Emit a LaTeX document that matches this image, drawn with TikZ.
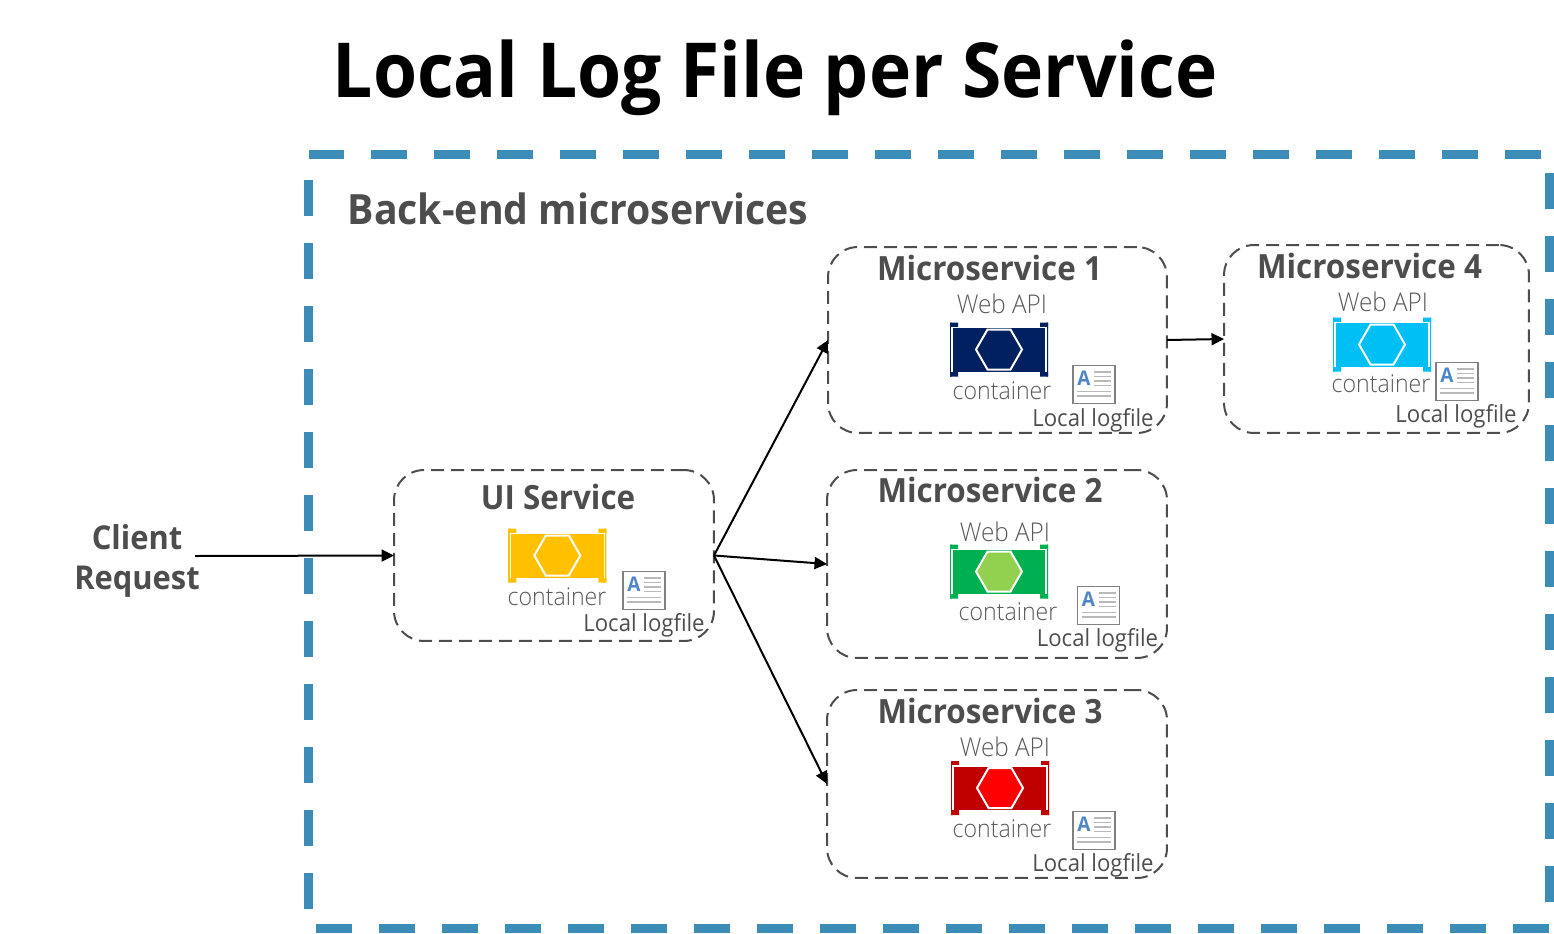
\documentclass[tikz,border=0pt]{standalone}
\usepackage{fontspec}
\setmainfont{Open Sans}[FakeStretch=0.94]
\newfontfamily\lightfont{Open Sans Light}[FakeStretch=0.94]
\usepackage{xcolor}
\usetikzlibrary{arrows.meta,positioning,shapes.geometric,calc}
\definecolor{edgeblue}{HTML}{3B8DB8}
\definecolor{inkgray}{HTML}{4D4D4D}
\definecolor{thingray}{HTML}{595959}
\definecolor{docblue}{HTML}{4F86C6}
\definecolor{uiyellow}{HTML}{FFC000}
\definecolor{onenavy}{HTML}{002060}
\definecolor{twogreen}{HTML}{00B050}
\definecolor{twolime}{HTML}{92D050}
\definecolor{threered}{HTML}{C00000}
\definecolor{fourcyan}{HTML}{00BFF5}

\tikzset{
  svcbox/.style={rectangle, draw=inkgray, dashed, dash pattern=on 0.26cm off 0.14cm, line width=0.04cm, rounded corners=0.6cm, inner sep=0pt, outer sep=0pt},
  svctitle/.style={text=inkgray, font=\fontsize{19}{24}\selectfont\bfseries, inner sep=0pt},
  thinlabel/.style={text=thingray, font=\fontsize{14.7}{17}\lightfont, inner sep=0pt},
  ctrlabel/.style={text=thingray, font=\fontsize{14}{17}\lightfont, inner sep=0pt},
  loglabel/.style={text=inkgray, font=\fontsize{13.4}{16}\selectfont, inner sep=0pt},
  arr/.style={-{Triangle[length=0.25cm,width=0.24cm]}, line width=0.04cm, black},
  pics/ctr/.style 2 args={code={
    \fill[#1] (-49,-22) rectangle (49,22);
    \fill[#1] (-49,-27) rectangle (-41,-22) (41,-27) rectangle (49,-22) (-49,22) rectangle (-41,27) (41,22) rectangle (49,27);
    \fill[#1] (-49,-27) rectangle (-47.5,27) (47.5,-27) rectangle (49,27);
    \draw[white, line width=0.024cm] (-47,22) -- (-47,-22) -- (47,-22) -- (47,22);
    \draw[white, line width=0.04cm, fill=#2] (-23,0) -- (-11.5,-20) -- (11.5,-20) -- (23,0) -- (11.5,20) -- (-11.5,20) -- cycle;
  }},
  pics/logdoc/.style={code={
    \draw[gray, fill=white, line width=0.036cm] (-21,-19) rectangle (21,19);
    \node[text=docblue, font=\fontsize{11.5}{12}\selectfont\bfseries, inner sep=0pt] (-glyph) at (-10,-6) {A};
    \draw[gray!55, line width=0.034cm] (0,-12.5) -- (17,-12.5) (0,-8) -- (17,-8) (0,-3.5) -- (17,-3.5) (0,1) -- (17,1) (-17,7) -- (17,7) (-17,11.5) -- (17,11.5);
  }}
}

\begin{document}
\begin{tikzpicture}[x=0.02cm, y=-0.02cm]
\useasboundingbox (0,0) rectangle (1554,933);

\node[font=\fontsize{43.2}{50}\selectfont\bfseries, inner sep=0pt] (heading) at (775,78) {Local Log File per Service};

\draw[edgeblue, line width=0.18cm, dash pattern=on 0.72cm off 0.54cm] (308.5,154.5) -- (1549.5,154.5) -- (1549.5,928.5) -- (308.5,928.5) -- cycle;
\node[svctitle, font=\fontsize{23.75}{30}\selectfont\bfseries] (backend) at (578,209) {Back-end microservices};

\node[svctitle, align=center, font=\fontsize{18.7}{23}\selectfont\bfseries] (client) at (137,561) {Client\\Request};
\coordinate (clientout) at (195,556);

\node[svcbox, minimum width=6.4cm, minimum height=3.42cm] (uisvc) at (554,555.5) {};
\node[svctitle] (uititle) at (558,497) {UI Service};
\pic at (557.3,555.5) {ctr={uiyellow}{uiyellow}};
\node[ctrlabel] (uictr) at (557,597) {container};
\pic (uidoc) at (644,590.5) {logdoc};
\node[loglabel] (uilog) at (644,625) {Local logfile};

\node[svcbox, minimum width=6.78cm, minimum height=3.72cm] (msone) at (997.5,340) {};
\node[svctitle] (onetitle) at (989.5,268) {Microservice 1};
\node[thinlabel] (oneapi) at (1002,303.5) {Web API};
\pic at (999,349.5) {ctr={onenavy}{onenavy}};
\node[ctrlabel] (onectr) at (1002,391) {container};
\pic (onedoc) at (1094,384.5) {logdoc};
\node[loglabel] (onelog) at (1093,420) {Local logfile};

\node[svcbox, minimum width=6.8cm, minimum height=3.76cm] (mstwo) at (997,564) {};
\node[svctitle] (twotitle) at (990,490) {Microservice 2};
\node[thinlabel] (twoapi) at (1005,531.5) {Web API};
\pic at (999,571.5) {ctr={twogreen}{twolime}};
\node[ctrlabel] (twoctr) at (1008,612) {container};
\pic (twodoc) at (1098.5,605.5) {logdoc};
\node[loglabel] (twolog) at (1097.5,640) {Local logfile};

\node[svcbox, minimum width=6.8cm, minimum height=3.76cm] (msthree) at (997,784) {};
\node[svctitle] (threetitle) at (990,711) {Microservice 3};
\node[thinlabel] (threeapi) at (1005,746.5) {Web API};
\pic at (1000,788) {ctr={threered}{red}};
\node[ctrlabel] (threectr) at (1002,829) {container};
\pic (threedoc) at (1094,830.5) {logdoc};
\node[loglabel] (threelog) at (1093,865) {Local logfile};

\node[svcbox, minimum width=6.1cm, minimum height=3.76cm] (msfour) at (1376.5,339) {};
\node[svctitle] (fourtitle) at (1369.5,266) {Microservice 4};
\node[thinlabel] (fourapi) at (1383,301.5) {Web API};
\pic at (1382,344.5) {ctr={fourcyan}{fourcyan}};
\node[ctrlabel] (fourctr) at (1381,384) {container};
\pic (fourdoc) at (1457,381.5) {logdoc};
\node[loglabel] (fourlog) at (1456,416) {Local logfile};

\draw[arr] (clientout) -- (uisvc.west);
\draw[arr] (uisvc.east) -- (msone.west);
\draw[arr] (uisvc.east) -- (mstwo.west);
\draw[arr] (uisvc.east) -- (msthree.west);
\draw[arr] (msone.east) -- (msfour.west);

\end{tikzpicture}
\end{document}
